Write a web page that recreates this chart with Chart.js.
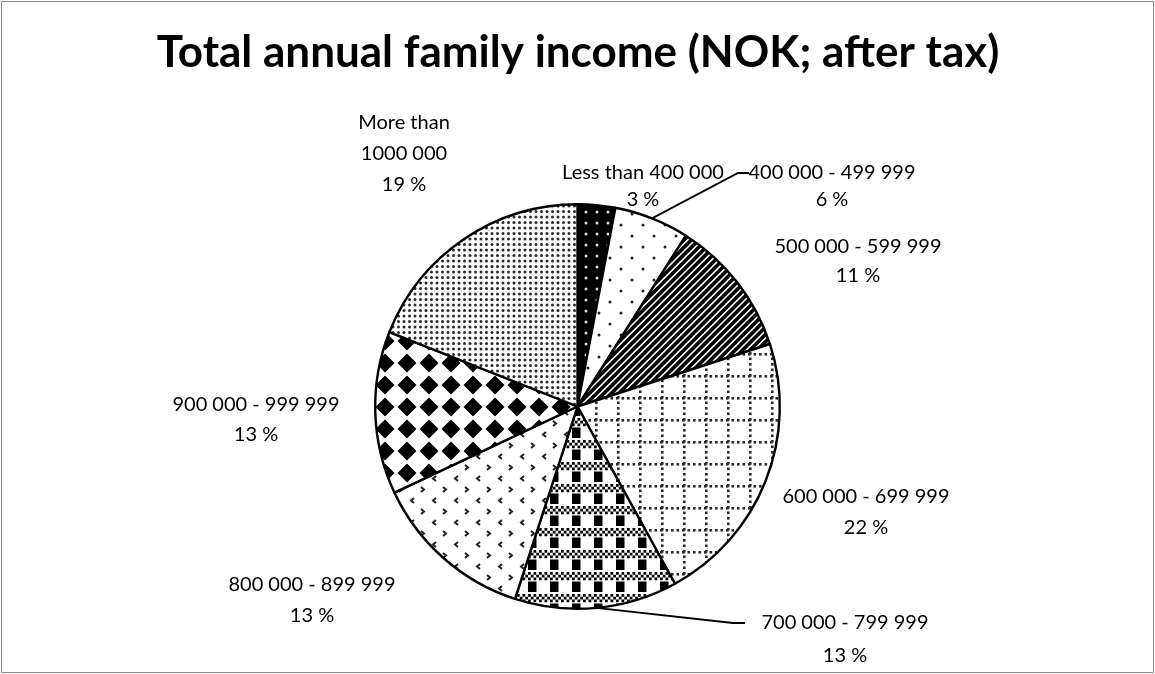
<!DOCTYPE html>
<html>
<head>
<meta charset="utf-8">
<script src="https://cdn.jsdelivr.net/npm/chart.js@4/dist/chart.umd.min.js"></script>
<style>
  html, body { margin: 0; padding: 0; background: #fff; }
  canvas { display: block; }
</style>
</head>
<body>
<canvas id="income-chart" width="1155" height="674"></canvas>
<script>
const categories = [
  'Less than 400 000', '400 000 - 499 999', '500 000 - 599 999', '600 000 - 699 999',
  '700 000 - 799 999', '800 000 - 899 999', '900 000 - 999 999', 'More than 1000 000'
];
const shares = [3, 6, 11, 22, 13, 13, 13, 19];
const labelLines = [
  ['Less than 400 000'], ['400 000 - 499 999'], ['500 000 - 599 999'], ['600 000 - 699 999'],
  ['700 000 - 799 999'], ['800 000 - 899 999'], ['900 000 - 999 999'], ['More than', '1000 000']
];

// where each label block sits (center x, first line y) and optional leader elbow
const labelPos = [
  { x: 643, y: 173 },
  { x: 832, y: 173, elbow: [738, 173, 749, 173] },
  { x: 858, y: 247 },
  { x: 866, y: 497 },
  { x: 845, y: 623, elbow: [733, 623, 745, 623] },
  { x: 312, y: 585 },
  { x: 256, y: 405 },
  { x: 404, y: 123 }
];
const lineGap = [27, 27, 29, 31, 33, 31, 30, 31];

const TILE = 22;

function makeTile(draw) {
  const c = document.createElement('canvas');
  c.width = TILE; c.height = TILE;
  const g = c.getContext('2d');
  g.fillStyle = '#fff';
  g.fillRect(0, 0, TILE, TILE);
  draw(g);
  return document.getElementById('income-chart').getContext('2d').createPattern(c, 'repeat');
}

function dot(g, x, y, r, col) {
  g.fillStyle = col;
  g.beginPath();
  g.arc(x, y, r, 0, Math.PI * 2);
  g.fill();
}

// black with white dots
const patDarkDots = makeTile(g => {
  g.fillStyle = '#000';
  g.fillRect(0, 0, TILE, TILE);
  [[3, 3], [14, 3], [3, 14], [14, 14]].forEach(p => dot(g, p[0], p[1], 1.5, '#ddd'));
});

// sparse black dots
const patSparse = makeTile(g => {
  [[5, 5], [16, 16]].forEach(p => dot(g, p[0], p[1], 1.5, '#222'));
});

// wide upward diagonal
const patDiag = makeTile(g => {
  g.strokeStyle = '#000';
  g.lineWidth = 3.6;
  const step = TILE / 3;
  for (let i = -6; i <= 9; i++) {
    const c = i * step;
    g.beginPath();
    g.moveTo(c - TILE, TILE + TILE);
    g.lineTo(c + TILE + TILE, -TILE);
    g.stroke();
  }
});

// dotted grid
const patGrid = makeTile(g => {
  g.fillStyle = '#2a2a2a';
  for (let i = 0; i < 4; i++) {
    g.fillRect(i * 5.5, 1, 2.6, 2.6);
    g.fillRect(1, i * 5.5, 2.6, 2.6);
  }
});

// plaid
const patPlaid = makeTile(g => {
  g.fillStyle = '#000';
  const s = 2.75;
  for (let r = 0; r < 3; r++) {
    for (let c = 0; c < 8; c++) {
      if ((r + c) % 2 === 0) g.fillRect(c * s, r * s, s, s);
    }
  }
  g.fillRect(0, 9.5, 8.5, 10.5);
});

// divot
const patDivot = makeTile(g => {
  g.strokeStyle = '#222';
  g.lineWidth = 2;
  g.beginPath();
  g.moveTo(3, 3); g.lineTo(6, 5.5); g.lineTo(3, 8);
  g.moveTo(18, 14); g.lineTo(15, 16.5); g.lineTo(18, 19);
  g.stroke();
});

// solid diamond
const patDiamond = makeTile(g => {
  g.fillStyle = '#000';
  g.beginPath();
  g.moveTo(11, 1.5); g.lineTo(20.5, 11); g.lineTo(11, 20.5); g.lineTo(1.5, 11);
  g.closePath();
  g.fill();
});

// fine dots
const patFine = makeTile(g => {
  for (let i = 0; i < 4; i++) {
    for (let j = 0; j < 4; j++) dot(g, i * 5.5 + 2.5, j * 5.5 + 2.5, 1.5, '#2a2a2a');
  }
});

const fills = [patDarkDots, patSparse, patDiag, patGrid, patPlaid, patDivot, patDiamond, patFine];

const FONT = 'Lato, Calibri, Carlito, "Open Sans", sans-serif';

const decorations = {
  id: 'decorations',
  beforeDraw(chart) {
    const ctx = chart.ctx;
    ctx.save();
    ctx.fillStyle = '#fff';
    ctx.fillRect(0, 0, chart.width, chart.height);
    ctx.restore();
  },
  afterDraw(chart) {
    const ctx = chart.ctx;
    const arcs = chart.getDatasetMeta(0).data;
    ctx.save();

    // outer frame
    ctx.strokeStyle = '#8c8c8c';
    ctx.lineWidth = 1;
    ctx.strokeRect(1.5, 1.5, chart.width - 3, chart.height - 3);

    // title
    ctx.fillStyle = '#000';
    ctx.textAlign = 'center';
    ctx.textBaseline = 'alphabetic';
    ctx.font = 'bold 44px ' + FONT;
    ctx.fillText('Total annual family income (NOK; after tax)', 578, 67);

    // slice labels
    ctx.textBaseline = 'middle';
    ctx.font = '20px ' + FONT;
    labelPos.forEach((p, i) => {
      const lines = labelLines[i].concat([shares[i] + ' %']);
      lines.forEach((t, k) => ctx.fillText(t, p.x, p.y + k * lineGap[i]));
      if (p.elbow) {
        const a = arcs[i];
        const mid = (a.startAngle + a.endAngle) / 2;
        const sx = a.x + Math.cos(mid) * a.outerRadius;
        const sy = a.y + Math.sin(mid) * a.outerRadius;
        ctx.strokeStyle = '#000';
        ctx.lineWidth = 1.8;
        ctx.beginPath();
        ctx.moveTo(sx, sy);
        ctx.lineTo(p.elbow[0], p.elbow[1]);
        ctx.lineTo(p.elbow[2], p.elbow[3]);
        ctx.stroke();
      }
    });
    ctx.restore();
  }
};

new Chart(document.getElementById('income-chart'), {
  type: 'pie',
  data: {
    labels: categories,
    datasets: [{
      data: shares,
      backgroundColor: fills,
      borderColor: '#000',
      borderWidth: 2.4
    }]
  },
  options: {
    responsive: false,
    animation: false,
    events: [],
    layout: { padding: { left: 374, right: 374, top: 203, bottom: 64 } },
    plugins: { legend: { display: false }, tooltip: { enabled: false }, title: { display: false } }
  },
  plugins: [decorations]
});
</script>
</body>
</html>
